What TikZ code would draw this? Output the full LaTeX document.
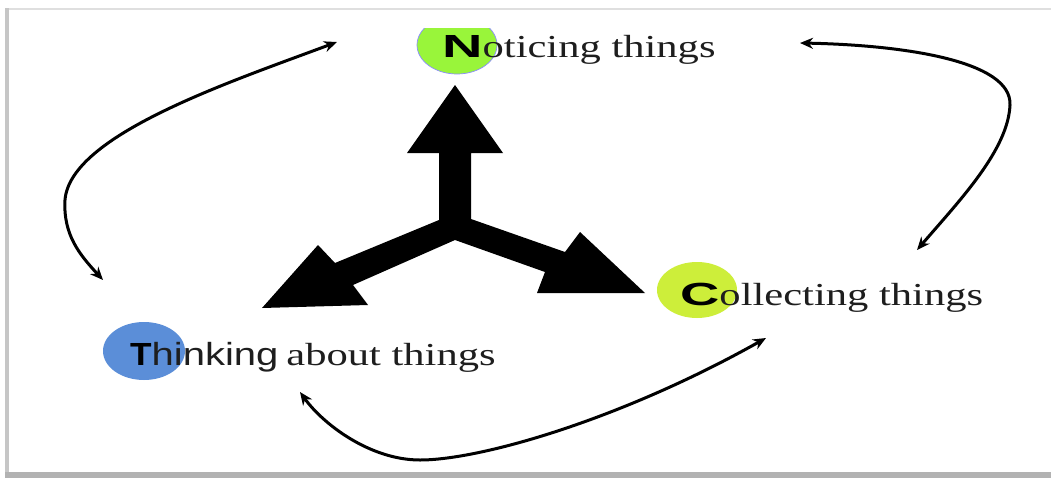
\documentclass[tikz,border=0pt]{standalone}
\usepackage{fontspec}
\usepackage{graphicx}
\setmainfont{Liberation Serif}
\newfontfamily\lsans{Liberation Sans}
\usetikzlibrary{arrows.meta}
\definecolor{ngreen}{HTML}{99F53A}
\definecolor{cgreen}{HTML}{CDEE3A}
\definecolor{tblue}{HTML}{5B8ED8}
\definecolor{txt}{HTML}{1E1E1E}
\tikzset{
  loopline/.style={line width=3pt, {Stealth[length=13pt,width=11pt]}-{Stealth[length=13pt,width=11pt]}},
  lbl/.style={anchor=base west, inner sep=0pt, text=txt, font=\fontsize{32}{32}\selectfont},
  bigarrow/.style={fill=black}
}
\newcommand{\ini}[2]{\scalebox{#1}[1]{\lsans\bfseries\color{black}#2}}
\newcommand{\ser}[1]{\scalebox{1.33}[1]{#1}}
\begin{document}
\begin{tikzpicture}[x=1pt,y=-1pt]
\useasboundingbox (0,0) rectangle (1051,479);
% frame
\fill[gray!25] (5,8) rectangle (1051,10);
\fill[gray!45] (5,8) rectangle (9,478);
\fill[gray!60] (5,472) rectangle (1051,478);
\fill[white] (9,10) rectangle (1051,472);
% ellipses
\begin{scope}
  \clip (0,28) rectangle (1051,479);
  \filldraw[fill=ngreen, draw=blue!45, line width=0.7pt] (457,45) ellipse [x radius=40, y radius=29];
\end{scope}
\fill[cgreen] (697,290) ellipse [x radius=40, y radius=28];
\fill[tblue] (144,351) ellipse [x radius=41, y radius=29];
% labels
\node[lbl] (N) at (442,57) {\ini{1.75}{N}\ser{oticing things}};
\node[lbl] (C) at (680,305) {\ini{1.7}{C}\ser{ollecting things}};
\node[lbl] (T) at (130,365) {\ini{1.1}{T}\scalebox{1.25}[1]{\lsans hinking}\hspace{8pt}\ser{about things}};
% central three-way arrow
\fill[bigarrow] (455,240) -- (353,285) -- (368,305) -- (262,308) -- (318,245) -- (335,263)
  -- (439,220) -- (439,153) -- (407,153) -- (455,85) -- (503,153) -- (471,153)
  -- (471,219) -- (565,252) -- (580,232) -- (645,293) -- (537,293) -- (545,272) -- cycle;
% loop arrow ends
\coordinate (nl) at (337,42);
\coordinate (tl) at (103,280);
\coordinate (nr) at (800,43);
\coordinate (cr) at (917,250);
\coordinate (tb) at (300,392);
\coordinate (cb) at (766,338);
\draw[loopline] (nl) .. controls (230,82) and (70,135) .. (65,200)
  .. controls (63,235) and (80,255) .. (tl);
\draw[loopline] (nr) .. controls (900,45) and (1012,60) .. (1010,105)
  .. controls (1008,150) and (960,200) .. (cr);
\draw[loopline] (tb) .. controls (323,424) and (370,460) .. (420,460)
  .. controls (480,460) and (620,420) .. (cb);
\end{tikzpicture}
\end{document}
